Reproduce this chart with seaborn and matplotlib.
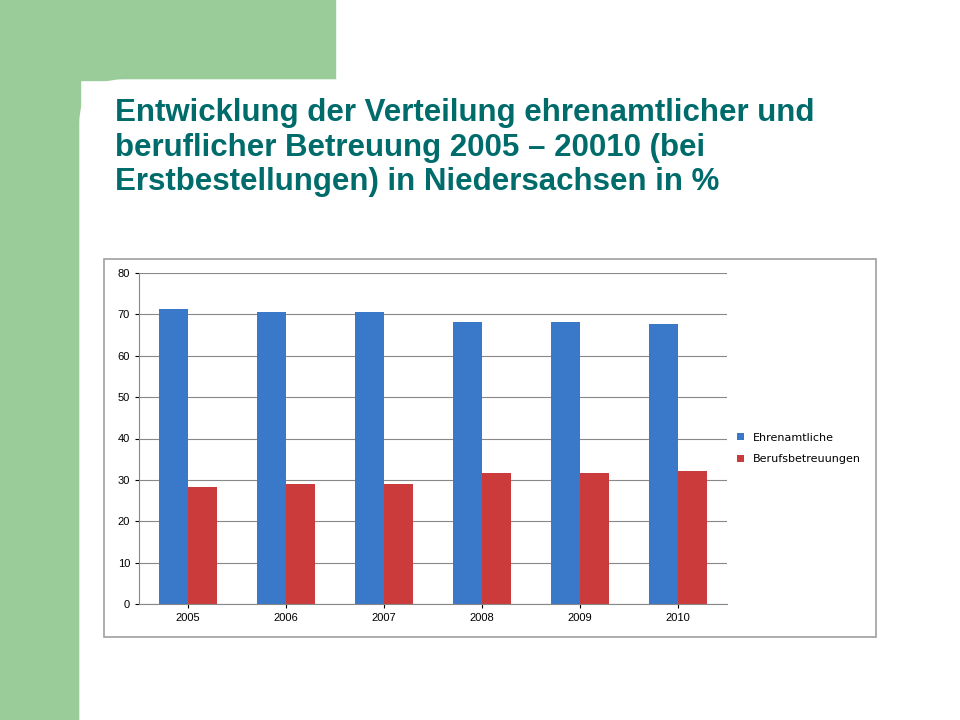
import matplotlib
matplotlib.use("Agg")
import matplotlib.pyplot as plt
from matplotlib.patches import Rectangle, FancyBboxPatch
import seaborn as sns
import pandas as pd

years = ["2005", "2006", "2007", "2008", "2009", "2010"]
ehren = [71.3, 70.6, 70.6, 68.1, 68.1, 67.7]
beruf = [28.3, 29.0, 29.0, 31.6, 31.7, 32.1]
series = ["Ehrenamtliche", "Berufsbetreuungen"]
title = "Entwicklung der Verteilung ehrenamtlicher und\nberuflicher Betreuung 2005 – 20010 (bei\nErstbestellungen) in Niedersachsen in %"

df = pd.DataFrame({
    "Jahr": years * 2,
    "Wert": ehren + beruf,
    "Serie": [series[0]] * 6 + [series[1]] * 6,
})

fig = plt.figure(figsize=(9.6, 7.2), dpi=100)
fig.patch.set_facecolor("white")
fig.add_artist(Rectangle((0, 0), 80/960, 1, transform=fig.transFigure, color="#99cc99", zorder=0))
fig.add_artist(Rectangle((0, 1-80/720), 335/960, 80/720, transform=fig.transFigure, color="#99cc99", zorder=0))
fig.add_artist(FancyBboxPatch((80/960, -0.2), 1, 1.2-80/720, boxstyle="round,pad=0,rounding_size=0.045",
                              transform=fig.transFigure, color="white", zorder=0.5, mutation_aspect=1.33))
fig.text(115/960, 1-98/720, title, ha="left", va="top", fontsize=22.5, fontweight="bold",
         color="#006b6b", family="Liberation Sans", linespacing=1.2, zorder=3)
fig.add_artist(Rectangle((104/960, 1-637/720), (876-104)/960, (637-259)/720, transform=fig.transFigure,
                         fill=False, edgecolor="#a0a0a0", lw=1.2, zorder=1))

ax = fig.add_axes([139/960, 1-604/720, (727-139)/960, (604-273)/720])
ax.set_zorder(2)
ax.patch.set_alpha(0)
sns.barplot(data=df, x="Jahr", y="Wert", hue="Serie", palette=["#3a78c9", "#cc3b3b"],
            width=0.6, ax=ax, saturation=1, edgecolor="none")
ax.set_ylim(0, 80)
ax.set_yticks(range(0, 81, 10))
ax.grid(axis="y", color="#888888", lw=0.8)
ax.set_axisbelow(True)
ax.set_xlabel("")
ax.set_ylabel("")
for s in ["top", "right"]:
    ax.spines[s].set_visible(False)
ax.spines["left"].set_color("#888888")
ax.spines["bottom"].set_color("#888888")
ax.tick_params(labelsize=8, colors="black", length=3)
for lab in ax.get_xticklabels() + ax.get_yticklabels():
    lab.set_family("Liberation Sans")
ax.legend(loc="center left", bbox_to_anchor=(1.0, 0.47), frameon=False, fontsize=8,
          handlelength=0.6, handleheight=0.6, labelspacing=1.0)
fig.savefig("out.png", dpi=100)
